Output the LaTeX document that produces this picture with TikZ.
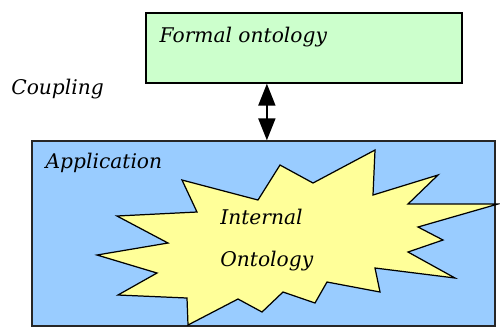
\documentclass[tikz,border=0pt]{standalone}
\usepackage{fontspec}
\setmainfont{DejaVu Serif}
\usepackage{xcolor}
\usetikzlibrary{arrows.meta,positioning,calc}
\definecolor{formalcolor}{RGB}{204,255,204}
\definecolor{appcolor}{RGB}{153,204,255}
\definecolor{burstcolor}{RGB}{255,255,153}

\begin{document}
\begin{tikzpicture}[
    every node/.style={font=\fontsize{11.5}{21}\selectfont\itshape},
    formalbox/.style={
        rectangle, fill=formalcolor, draw=black, line width=0.8pt,
        minimum width=6.32cm, minimum height=1.4cm
    },
    appbox/.style={
        rectangle, fill=appcolor, draw=black!85, line width=0.8pt,
        minimum width=9.26cm, minimum height=3.7cm
    },
    burst/.style={fill=burstcolor, draw=black, line width=0.7pt, line join=miter},
    caption/.style={inner sep=0pt, align=left},
    coupling/.style={
        {Triangle[width=0.34cm,length=0.44cm]}-{Triangle[width=0.34cm,length=0.44cm]},
        line width=1.1pt
    }
]
\useasboundingbox (0,0) rectangle (10,-6.54);

% Boxes
\node[formalbox] (formal) at (6.08,-0.96) {};
\node[appbox] (app) at (5.27,-4.67) {};

% Labels of the boxes
\node[caption, below right=0.28cm and 0.28cm of formal.north west] (formaltext) {Formal ontology};
\node[caption, below right=0.24cm and 0.28cm of app.north west] (apptext) {Application};
\node[caption, anchor=north west] (couplingtext) at (0.22,-1.58) {Coupling};

% Internal ontology
\draw[burst] (7.50,-3.00) -- (7.46,-3.90) -- (8.76,-3.50) -- (8.16,-4.08)
    -- (9.96,-4.08) -- (8.36,-4.54) -- (8.86,-4.80) -- (8.16,-5.04)
    -- (9.10,-5.56) -- (7.50,-5.36) -- (7.60,-5.84) -- (6.54,-5.64)
    -- (6.30,-6.06) -- (5.66,-5.84) -- (5.24,-6.24) -- (4.76,-5.98)
    -- (3.76,-6.50) -- (3.74,-5.96) -- (2.36,-5.90) -- (3.14,-5.46)
    -- (1.94,-5.10) -- (3.36,-4.86) -- (2.34,-4.32) -- (3.94,-4.24)
    -- (3.64,-3.60) -- (5.16,-4.00) -- (5.60,-3.30) -- (6.26,-3.66) -- cycle;
\node[caption, anchor=north west, font=\fontsize{11.5}{23.5}\selectfont\itshape]
    (internal) at (4.40,-4.18) {Internal\\Ontology};

% Coupling arrow
\coordinate (link) at ($(formal.south west)!0.383!(formal.south east)$);
\draw[coupling] (link) -- (link |- app.north);

\end{tikzpicture}
\end{document}
